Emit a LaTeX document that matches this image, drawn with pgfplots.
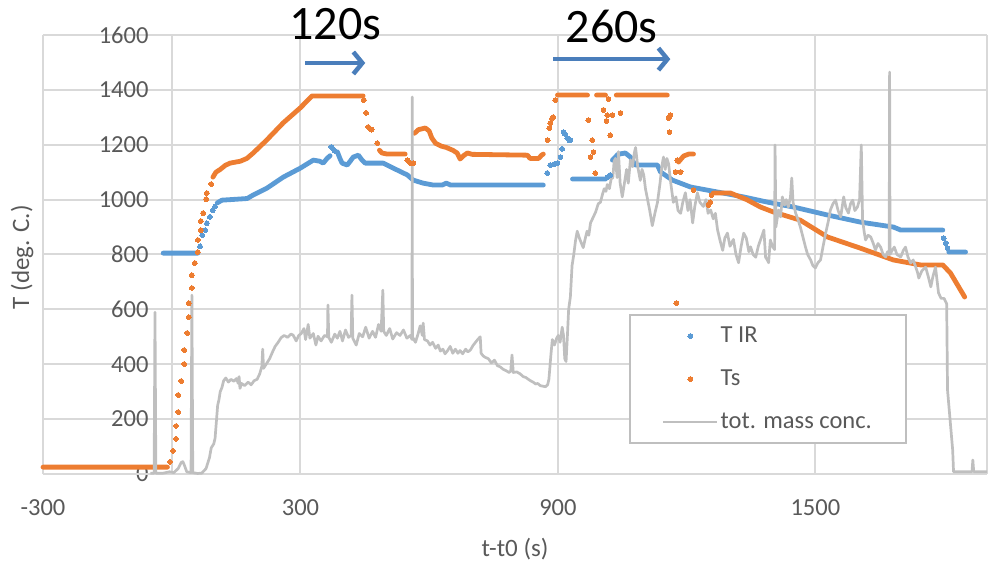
\documentclass[border=0pt]{standalone}
\usepackage{pgfplots}
\pgfplotsset{compat=1.18}
\usepackage{fontspec}
\setmainfont{Carlito}
\usetikzlibrary{arrows.meta}
\definecolor{tir}{HTML}{5B9BD5}
\definecolor{ts}{HTML}{ED7D31}
\definecolor{mass}{HTML}{BFBFBF}
\definecolor{gridc}{HTML}{D9D9D9}
\definecolor{txt}{HTML}{595959}
\definecolor{arrowc}{HTML}{4A7EBB}
\begin{document}
\begin{tikzpicture}
\begin{axis}[
  scale only axis, width=944pt, height=439pt,
  xmin=-300, xmax=1900, ymin=0, ymax=1600,
  axis line style={draw=none},
  xtick={-300,300,900,1500}, xticklabels={-300,300,900,1500},
  extra x ticks={0,1900}, extra x tick labels={},
  ytick={0,200,...,1600}, yticklabels={0,200,400,600,800,1000,1200,1400,1600},
  extra y ticks={0}, extra y tick labels={},
  extra y tick style={grid style={draw=mass, line width=2.6pt}},
  grid=major, major grid style={draw=gridc, line width=2pt},
  major tick length=0pt,
  tick label style={font=\fontsize{24.5}{28}\selectfont, text=txt},
  xticklabel style={yshift=-22pt},
  yticklabel style={anchor=east, xshift=109pt},
  clip=false,
  unbounded coords=jump,
  legend image code/.code={\draw[mark repeat=2,mark phase=2,#1] plot coordinates {(0pt,0pt) (27pt,0pt) (54pt,0pt)};},
  legend style={at={(axis description cs:0.6208,0.0683)}, anchor=south west,
    draw=mass, line width=2pt, inner xsep=32pt, inner ysep=8pt,
    font=\fontsize{24.5}{28}\selectfont, text=txt, row sep=17pt,
    nodes={inner sep=2pt, text height=17pt, text depth=5pt}},
  legend cell align=left,
]
% T IR continuous stretches
\addplot[forget plot, tir, line width=4.8pt, line cap=round, line join=round] coordinates {
(-20,805) (61,805) (61,nan)
(106,988) (117,998) (176,1004) (190,1017) (222,1042) (260,1082) (300,1115) (330,1144) (345,1140) (353,1133) (362,1150) (369,1160) (369,nan)
(386,1174) (392,1150) (397,1133) (409,1126) (416,1140) (423,1155) (435,1162) (443,1145) (451,1133) (493,1133) (516,1115) (549,1090) (563,1071) (586,1060) (610,1053) (630,1053) (640,1060) (650,1053) (866,1053) (866,nan)
(934,1075) (1011,1075) (1011,nan)
(1027,1144) (1040,1165) (1057,1170) (1069,1155) (1080,1126) (1132,1126) (1139,1101) (1167,1071) (1209,1046) (1271,1028) (1332,1010) (1388,991) (1449,973) (1528,944) (1605,918) (1682,900) (1699,889) (1797,889) (1797,nan)
(1811,809) (1850,809)
};
\addplot[forget plot, only marks, mark=*, mark size=2.4pt, mark options={fill=tir, draw=tir, line width=0pt}] coordinates {
(66,830) (71,871) (78,889) (82,914) (89,937) (96,962) (101,975) (372,1192) (376,1185) (380,1178) (875,1097) (882,1126) (892,1130) (899,1133) (906,1155) (910,1185) (913,1246) (916,1240) (922,1224) (926,1217) (929,1217) (1016,1082) (1022,1090) (1799,860) (1804,842) (1808,823)
};
% Ts continuous stretches
\addplot[forget plot, ts, line width=4.8pt, line cap=round, line join=round] coordinates {
(-300,25) (-10,25) (-10,nan)
(96,1082) (103,1100) (113,1110) (125,1125) (136,1133) (160,1140) (175,1150) (190,1170) (220,1215) (260,1280) (300,1335) (327,1378) (446,1378) (446,nan)
(484,1180) (490,1170) (502,1166) (544,1166) (544,nan)
(566,1242) (575,1255) (591,1261) (600,1250) (606,1225) (615,1205) (628,1195) (640,1190) (655,1180) (665,1170) (672,1148) (680,1160) (689,1170) (700,1165) (829,1162) (835,1150) (855,1150) (862,1162) (866,1166) (866,nan)
(899,1381) (969,1381) (969,nan)
(990,1381) (1011,1381) (1011,nan)
(1036,1381) (1155,1381) (1155,nan)
(1181,1137) (1193,1159) (1205,1166) (1216,1166) (1216,nan)
(1262,1024) (1302,1024) (1340,1000) (1372,973) (1402,955) (1465,925) (1528,864) (1605,823) (1682,780) (1745,762) (1797,762) (1815,732) (1848,645)
};
\addplot[forget plot, only marks, mark=*, mark size=2.4pt, mark options={fill=ts, draw=ts, line width=0pt}] coordinates {
(-4,44) (3,84) (10,128) (10,175) (15,226) (15,288) (22,339) (29,401) (29,452) (36,514) (40,572) (40,623) (47,678) (47,725) (54,769) (61,809) (61,853) (68,889) (68,922) (73,951) (80,1002) (82,1024) (92,1057)
(448,1363) (453,1316) (458,1265) (462,1258) (466,1255) (479,1206) (549,1144) (556,1133) (563,1133)
(876,1217) (880,1261) (882,1279) (886,1295) (889,1301) (894,1363)
(971,1290) (976,1155) (980,1217) (983,1173) (987,1097) (1006,1327) (1013,1287) (1015,1308) (1018,1367) (1022,1235) (1027,1308) (1046,1316)
(1158,1297) (1160,1246) (1162,1308) (1174,1101) (1176,623) (1178,1144) (1186,1101) (1216,1035) (1251,980) (1255,991) (1258,1017)
};
% tot. mass conc.
\addplot[forget plot, mass, line width=2.7pt, line join=round] coordinates {
(-50,3) (-41,3) (-39,590) (-37,3) (-20,3) (-5,8) (5,5) (15,20) (22,42) (26,45) (30,30) (35,8) (45,5) (47,652) (49,5) (60,2) (70,3) (80,20) (88,60) (92,95) (98,110) (101,130) (104,190) (107,250) (110,270) (113,300) (117,315) (121,340) (126,350) (132,335) (138,345) (145,338) (151,348) (155,330) (157,355) (159,312) (163,330) (170,322) (178,335) (185,325) (192,340) (199,345) (205,365) (210,392) (212,455) (214,385) (220,400) (228,420) (235,445) (241,465) (248,480) (255,497) (262,505) (270,498) (278,510) (283,506) (290,485) (296,505) (302,512) (308,530) (312,490) (318,545) (322,495) (330,512) (336,470) (341,502) (348,485) (356,505) (363,500) (364,616) (366,498) (372,480) (380,510) (386,495) (392,520) (398,485) (405,525) (412,498) (418,505) (420,652) (422,495) (430,470) (437,512) (445,500) (452,535) (460,495) (468,520) (475,498) (482,545) (488,520) (492,670) (494,520) (500,505) (508,530) (515,492) (524,515) (532,505) (540,525) (548,495) (556,505) (560,490) (560.5,1374) (561,500) (568,480) (574,510) (579,540) (584,505) (586,550) (589,490) (596,485) (602,470) (608,480) (615,458) (621,470) (626,448) (632,455) (637,438) (643,450) (649,465) (655,440) (661,455) (667,440) (672,450) (678,438) (685,455) (690,445) (696,452) (702,468) (707,478) (713,490) (719,500) (721,440) (726,430) (731,425) (738,420) (745,405) (752,415) (759,395) (766,390) (772,382) (780,376) (786,370) (790,375) (793,434) (796,370) (804,372) (812,365) (819,355) (825,352) (831,345) (836,340) (842,335) (848,328) (853,330) (859,322) (865,320) (871,318) (876,325) (879,345) (884,440) (887,490) (892,470) (897,495) (901,505) (905,480) (910,535) (913,505) (916,420) (919,410) (922,500) (925,600) (929,645) (933,760) (937,800) (941,850) (945,885) (950,860) (955,840) (959,825) (964,860) (968,885) (972,870) (976,915) (982,935) (988,955) (994,985) (999,990) (1004,1020) (1008,1040) (1012,1030) (1015,1055) (1020,1040) (1024,1075) (1028,1080) (1031,1140) (1034,1150) (1038,1080) (1041,1175) (1045,1060) (1050,1010) (1055,1060) (1060,1110) (1064,1060) (1069,1145) (1074,1120) (1078,1170) (1081,1190) (1086,1120) (1092,1070) (1096,1110) (1100,1090) (1104,1040) (1109,1000) (1114,960) (1120,905) (1126,950) (1132,990) (1138,1060) (1142,1120) (1146,1155) (1150,1110) (1154,1150) (1158,1130) (1163,1060) (1169,990) (1175,1010) (1180,960) (1186,950) (1191,990) (1197,1025) (1203,960) (1208,1000) (1214,915) (1219,975) (1225,1025) (1231,990) (1239,975) (1245,1000) (1250,950) (1256,962) (1262,930) (1267,950) (1272,890) (1278,850) (1284,815) (1289,860) (1295,878) (1301,830) (1309,855) (1315,800) (1321,770) (1327,830) (1333,878) (1339,860) (1345,810) (1349,828) (1355,800) (1361,790) (1367,830) (1372,853) (1376,870) (1380,889) (1384,790) (1388,780) (1391,770) (1395,853) (1400,830) (1405,818) (1406,1199) (1408,900) (1414,962) (1419,937) (1423,1010) (1428,980) (1432,1000) (1437,973) (1442,1010) (1445,1079) (1448,990) (1454,951) (1459,930) (1465,900) (1470,870) (1477,827) (1482,800) (1489,780) (1494,760) (1500,751) (1506,770) (1512,780) (1518,830) (1524,878) (1530,920) (1535,962) (1541,985) (1547,998) (1553,960) (1559,937) (1566,1010) (1571,970) (1577,951) (1582,985) (1587,998) (1592,960) (1598,973) (1603,1000) (1607,1199) (1610,925) (1614,880) (1617,853) (1623,870) (1629,864) (1635,840) (1640,816) (1646,840) (1652,827) (1658,800) (1664,791) (1668,810) (1672,800) (1673,1465) (1674,800) (1679,815) (1684,827) (1690,800) (1699,791) (1705,815) (1710,827) (1716,790) (1722,769) (1728,780) (1734,754) (1738,735) (1741,714) (1748,740) (1757,754) (1763,720) (1769,682) (1774,720) (1780,754) (1784,700) (1787,660) (1793,640) (1800,640) (1806,620) (1808,306) (1820,87) (1822,8) (1865,8) (1867,51) (1869,8) (1900,8)
};
\addlegendimage{only marks, mark=*, mark size=2.4pt, mark options={fill=tir, draw=tir, line width=0pt}}
\addlegendentry{T IR}
\addlegendimage{only marks, mark=*, mark size=2.4pt, mark options={fill=ts, draw=ts, line width=0pt}}
\addlegendentry{Ts}
\addlegendimage{mass, line width=2.7pt}
\addlegendentry{tot. mass conc.}
% annotations
\node[font=\fontsize{48}{52}\selectfont, anchor=base] at (axis cs:381,1582) {120s};
\node[font=\fontsize{48}{52}\selectfont, anchor=base] at (axis cs:1025,1571) {260s};
\draw[arrowc, line width=4.5pt, -{Straight Barb[length=9pt, width=22pt]}] (axis cs:311,1498) -- (axis cs:451,1498);
\draw[arrowc, line width=4.5pt, -{Straight Barb[length=9pt, width=22pt]}] (axis cs:889,1512) -- (axis cs:1162,1512);
\node[font=\fontsize{25}{30}\selectfont, text=txt, rotate=90] at (axis description cs:-0.0222,0.494) {T (deg. C.)};
\node[font=\fontsize{25}{30}\selectfont, text=txt] at (axis description cs:0.5,-0.171) {t-t0 (s)};
\end{axis}
\pgfresetboundingbox
\useasboundingbox (-43pt,-90pt) rectangle (947pt,474pt);
\end{tikzpicture}
\end{document}
